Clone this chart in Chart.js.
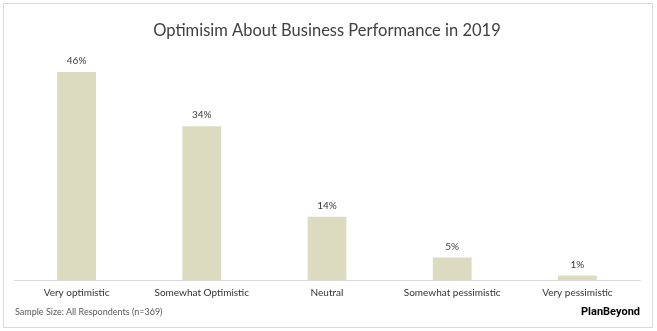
<!DOCTYPE html>
<html>
<head>
<meta charset="utf-8">
<script src="https://cdn.jsdelivr.net/npm/chart.js@4.4.1/dist/chart.umd.min.js"></script>
<style>
  html, body { margin: 0; padding: 0; background: #fff; }
  #wrap { position: relative; width: 657px; height: 331px; }
  #frame { position: absolute; left: 3px; top: 3px; width: 648px; height: 323px; border: 1px solid #d9d9d9; pointer-events: none; }
  #note { position: absolute; left: 15px; top: 306px; font: 9px Lato, sans-serif; color: #595959; }
  #brand { position: absolute; right: 17px; top: 305px; font: bold 11px Roboto, Arial, sans-serif; color: #000; }
</style>
</head>
<body>
<div id="wrap">
  <canvas id="chart"></canvas>
  <div id="frame"></div>
  <div id="note">Sample Size: All Respondents (n=369)</div>
  <div id="brand">PlanBeyond</div>
</div>
<script>
const categories = ['Very optimistic', 'Somewhat Optimistic', 'Neutral', 'Somewhat pessimistic', 'Very pessimistic'];
const shares     = [46, 34, 14, 5, 1];

const barLabels = {
    id: 'barLabels',
    afterDatasetsDraw: function(chart) {
        const ctx  = chart.ctx;
        const meta = chart.getDatasetMeta(0);

        ctx.save();
        ctx.font = '10px Lato, sans-serif';
        ctx.fillStyle = '#3a3a3a';
        ctx.textAlign = 'center';
        ctx.textBaseline = 'middle';
        meta.data.forEach((bar, i) => {
            ctx.fillText(shares[i] + '%', bar.x, bar.y - 11);
        });
        ctx.restore();
    }
};

const chart = new Chart(document.getElementById('chart'), {
    type: 'bar',
    data: {
        labels: categories,
        datasets: [{
            label: 'Share',
            data: shares,
            backgroundColor: '#dcdbbf',
            barPercentage: 0.31,
            categoryPercentage: 1
        }]
    },
    options: {
        responsive: true,
        maintainAspectRatio: false,
        animation: false,
        layout: {
            padding: { left: 14, right: 17, top: 0, bottom: 25 }
        },
        scales: {
            x: {
                grid: { display: false, drawTicks: false },
                border: { color: '#d9d9d9', width: 1 },
                ticks: {
                    color: '#333',
                    padding: 7,
                    font: { family: 'Lato', size: 10 }
                }
            },
            y: {
                display: false,
                min: 0,
                max: 50
            }
        },
        plugins: {
            legend: { display: false },
            tooltip: { enabled: false },
            title: {
                display: true,
                text: 'Optimisim About Business Performance in 2019',
                color: '#404040',
                font: { family: 'Lato', size: 16.5, weight: 'normal' },
                padding: { top: 21, bottom: 13 }
            }
        }
    },
    plugins: [barLabels]
});
</script>
</body>
</html>
